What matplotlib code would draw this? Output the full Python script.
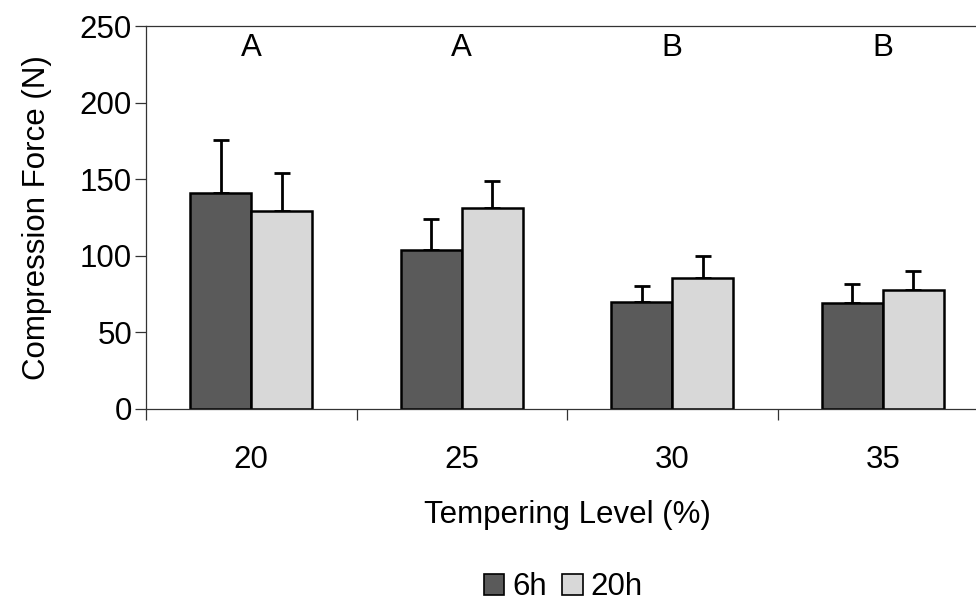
import numpy as np
import matplotlib.pyplot as plt
from matplotlib.patches import Patch

plt.rcParams['font.family'] = ['Liberation Sans', 'DejaVu Sans']

levels = ['20', '25', '30', '35']
force6h = [141, 103.5, 70, 69.5]
err6h = [34.5, 20.5, 10, 12]
force20h = [129, 131.5, 85.5, 78]
err20h = [25, 17, 14.5, 12]
groupLetters = ['A', 'A', 'B', 'B']
seriesLabels = ['6h', '20h']

darkColor = '#5a5a5a'
lightColor = '#d8d8d8'
fontSize = 22.5

fig = plt.figure(figsize=(9.76, 6.03), dpi=100)
ax = fig.add_axes([146 / 976, 1 - 409 / 603, (988 - 146) / 976, (409 - 26) / 603])

x = np.arange(len(levels))
width = 0.29

ax.bar(x - width / 2, force6h, width, color=darkColor, edgecolor='black', linewidth=1.8, zorder=2)
ax.bar(x + width / 2, force20h, width, color=lightColor, edgecolor='black', linewidth=1.8, zorder=2)

# upper error bars only
ax.errorbar(x - width / 2, force6h, yerr=[np.zeros(len(x)), err6h], fmt='none',
            ecolor='black', elinewidth=2, capsize=6, capthick=2, zorder=1)
ax.errorbar(x + width / 2, force20h, yerr=[np.zeros(len(x)), err20h], fmt='none',
            ecolor='black', elinewidth=2, capsize=6, capthick=2, zorder=1)

for xi, letter in zip(x, groupLetters):
    ax.text(xi, 235.5, letter, ha='center', va='center', fontsize=fontSize)

ax.set_xlim(-0.5, len(levels) - 0.5)
ax.set_ylim(0, 250)
ax.set_yticks(range(0, 251, 50))

# category labels sit between boundary ticks
ax.set_xticks(np.arange(-0.5, len(levels), 1.0))
ax.set_xticklabels([])
ax.set_xticks(x, minor=True)
ax.set_xticklabels(levels, minor=True)
ax.tick_params(axis='x', which='minor', length=0, pad=26, labelsize=fontSize)
ax.tick_params(axis='x', which='major', direction='out', length=8, width=0.9, color='#333333')
ax.tick_params(axis='y', direction='out', length=8, width=0.9, color='#333333', pad=2, labelsize=fontSize)

for side in ['left', 'bottom', 'top']:
    ax.spines[side].set_linewidth(0.9)
    ax.spines[side].set_color('#333333')
ax.spines['right'].set_visible(False)

ax.set_ylabel('Compression Force (N)', fontsize=fontSize, labelpad=20)
ax.set_xlabel('Tempering Level (%)', fontsize=fontSize, labelpad=18)

handles = [Patch(facecolor=darkColor, edgecolor='black', linewidth=1.2),
           Patch(facecolor=lightColor, edgecolor='black', linewidth=1.2)]
fig.legend(handles, seriesLabels, loc='center', bbox_to_anchor=(0.577, 0.026), ncol=2,
           frameon=False, fontsize=fontSize, handlelength=0.65, handleheight=0.65,
           handletextpad=0.25, columnspacing=0.5, borderpad=0)

fig.savefig('out.png', dpi=100)
